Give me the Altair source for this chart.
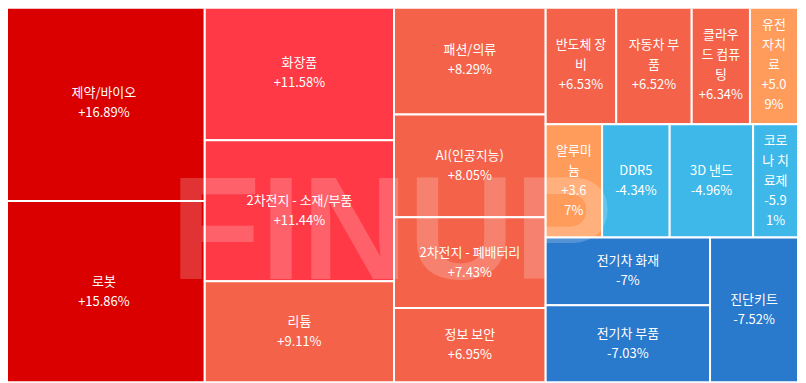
import altair as alt
import pandas as pd

# ---- data ----
names = ["제약/바이오", "로봇", "화장품", "2차전지 - 소재/부품", "리튬",
         "패션/의류", "AI(인공지능)", "2차전지 - 폐배터리", "정보 보안",
         "반도체 장비", "자동차 부품", "클라우드 컴퓨팅", "유전자치료",
         "알루미늄", "DDR5", "3D 낸드", "코로나 치료제",
         "전기차 화재", "전기차 부품", "진단키트"]
changes = [16.89, 15.86, 11.58, 11.44, 9.11, 8.29, 8.05, 7.43, 6.95,
           6.53, 6.52, 6.34, 5.09, 3.67, -4.34, -4.96, -5.91,
           -7.00, -7.03, -7.52]
# relative tile sizes (estimated from the tile areas)
sizes = [396.9, 368.6, 256.5, 269.2, 192.5, 166.4, 156.8, 138.5, 113.7,
         84.3, 90.2, 69.6, 57.4, 64.4, 77.1, 95.2, 51.2, 112.2, 127.6, 128.3]
# names as they wrap inside the narrow tiles of the reference
shown_names = ["제약/바이오", "로봇", "화장품", "2차전지 - 소재/부품", "리튬",
               "패션/의류", "AI(인공지능)", "2차전지 - 폐배터리", "정보 보안",
               "반도체 장\n비", "자동차 부\n품", "클라우\n드 컴퓨\n팅", "유전\n자치\n료",
               "알루미\n늄", "DDR5", "3D 낸드", "코로\n나 치\n료제",
               "전기차 화재", "전기차 부품", "진단키트"]
# where the change text wraps (0 = no wrap)
value_wrap = [0, 0, 0, 0, 0, 0, 0, 0, 0, 0, 0, 0, 4, 4, 0, 0, 4, 0, 0, 0]

W, H = 798.0, 378.0
LINE_H = 20


def squarify(values, x0, y0, x1, y1, ratio=(1 + 5 ** 0.5) / 2):
    n = len(values)
    rects = [None] * n
    i0 = i1 = 0
    value = float(sum(values))
    while i0 < n:
        dx, dy = x1 - x0, y1 - y0
        sumv = values[i1]
        i1 += 1
        minv = maxv = sumv
        alpha = max(dy / dx, dx / dy) / (value * ratio)
        beta = sumv * sumv * alpha
        minr = max(maxv / beta, beta / minv)
        while i1 < n:
            nv = values[i1]
            s = sumv + nv
            mn, mx = min(minv, nv), max(maxv, nv)
            beta = s * s * alpha
            nr = max(mx / beta, beta / mn)
            if nr > minr:
                break
            sumv, minv, maxv, minr = s, mn, mx, nr
            i1 += 1
        if dx < dy:
            yb = y0 + dy * sumv / value
            xx = x0
            for i in range(i0, i1):
                w = (x1 - x0) * values[i] / sumv
                rects[i] = (xx, y0, xx + w, yb)
                xx += w
            y0 = yb
        else:
            xb = x0 + dx * sumv / value
            yy = y0
            for i in range(i0, i1):
                h = (y1 - y0) * values[i] / sumv
                rects[i] = (x0, yy, xb, yy + h)
                yy += h
            x0 = xb
        value -= sumv
        i0 = i1
    return rects


def fmt(v, wrap):
    s = f"{v:+.2f}".rstrip("0").rstrip(".") + "%"
    if wrap:
        s = "\n".join(s[i:i + wrap] for i in range(0, len(s), wrap))
    return s


rects = squarify(sizes, 0.0, 0.0, W, H)
rows = []
for i, nm in enumerate(names):
    x0, y0, x1, y1 = rects[i]
    label = shown_names[i] + "\n" + fmt(changes[i], value_wrap[i])
    nlines = label.count("\n") + 1
    rows.append(dict(name=nm, change=changes[i], size=sizes[i],
                     x0=x0, x1=x1, y0=y0, y1=y1,
                     cx=(x0 + x1) / 2,
                     # first line position so the block is centred in the tile
                     ty=(y0 + y1) / 2 - (nlines - 1) * LINE_H / 2,
                     label=label))
df = pd.DataFrame(rows)

xs = alt.Scale(domain=[5, W], nice=False, zero=False)
ys = alt.Scale(domain=[3, H], nice=False, zero=False, reverse=True)

color = alt.Color("change:Q", legend=None,
                  scale=alt.Scale(type="threshold", domain=[-6.5, 0, 6, 10, 15],
                                  range=["#2979cc", "#3db8e8", "#ff9c5b",
                                         "#f4624a", "#ff3945", "#da0000"]))

tiles = alt.Chart(df).mark_rect(stroke="white", strokeWidth=2, clip=True).encode(
    x=alt.X("x0:Q", scale=xs, axis=None),
    x2="x1:Q",
    y=alt.Y("y0:Q", scale=ys, axis=None),
    y2="y1:Q",
    color=color,
)

watermark = alt.Chart(pd.DataFrame({"t": ["FINUP"]})).mark_text(
    font="Liberation Sans", fontWeight="bold", fontSize=148,
    color="white", opacity=0.2, align="center", baseline="alphabetic",
).encode(text="t:N", x=alt.value(385), y=alt.value(271))

labels = alt.Chart(df).mark_text(
    font="Noto Sans CJK KR", fontSize=13, color="white", lineBreak="\n",
    lineHeight=LINE_H, align="center", baseline="middle", clip=True,
).encode(
    x=alt.X("cx:Q", scale=xs, axis=None),
    y=alt.Y("ty:Q", scale=ys, axis=None),
    text="label:N",
)

chart = alt.layer(tiles, watermark, labels).properties(
    width=793, height=375, padding=0,
    autosize=alt.AutoSizeParams(type="none"),
).configure_view(stroke=None)

chart.save("out.html", embed_options={"renderer": "svg", "actions": False})
